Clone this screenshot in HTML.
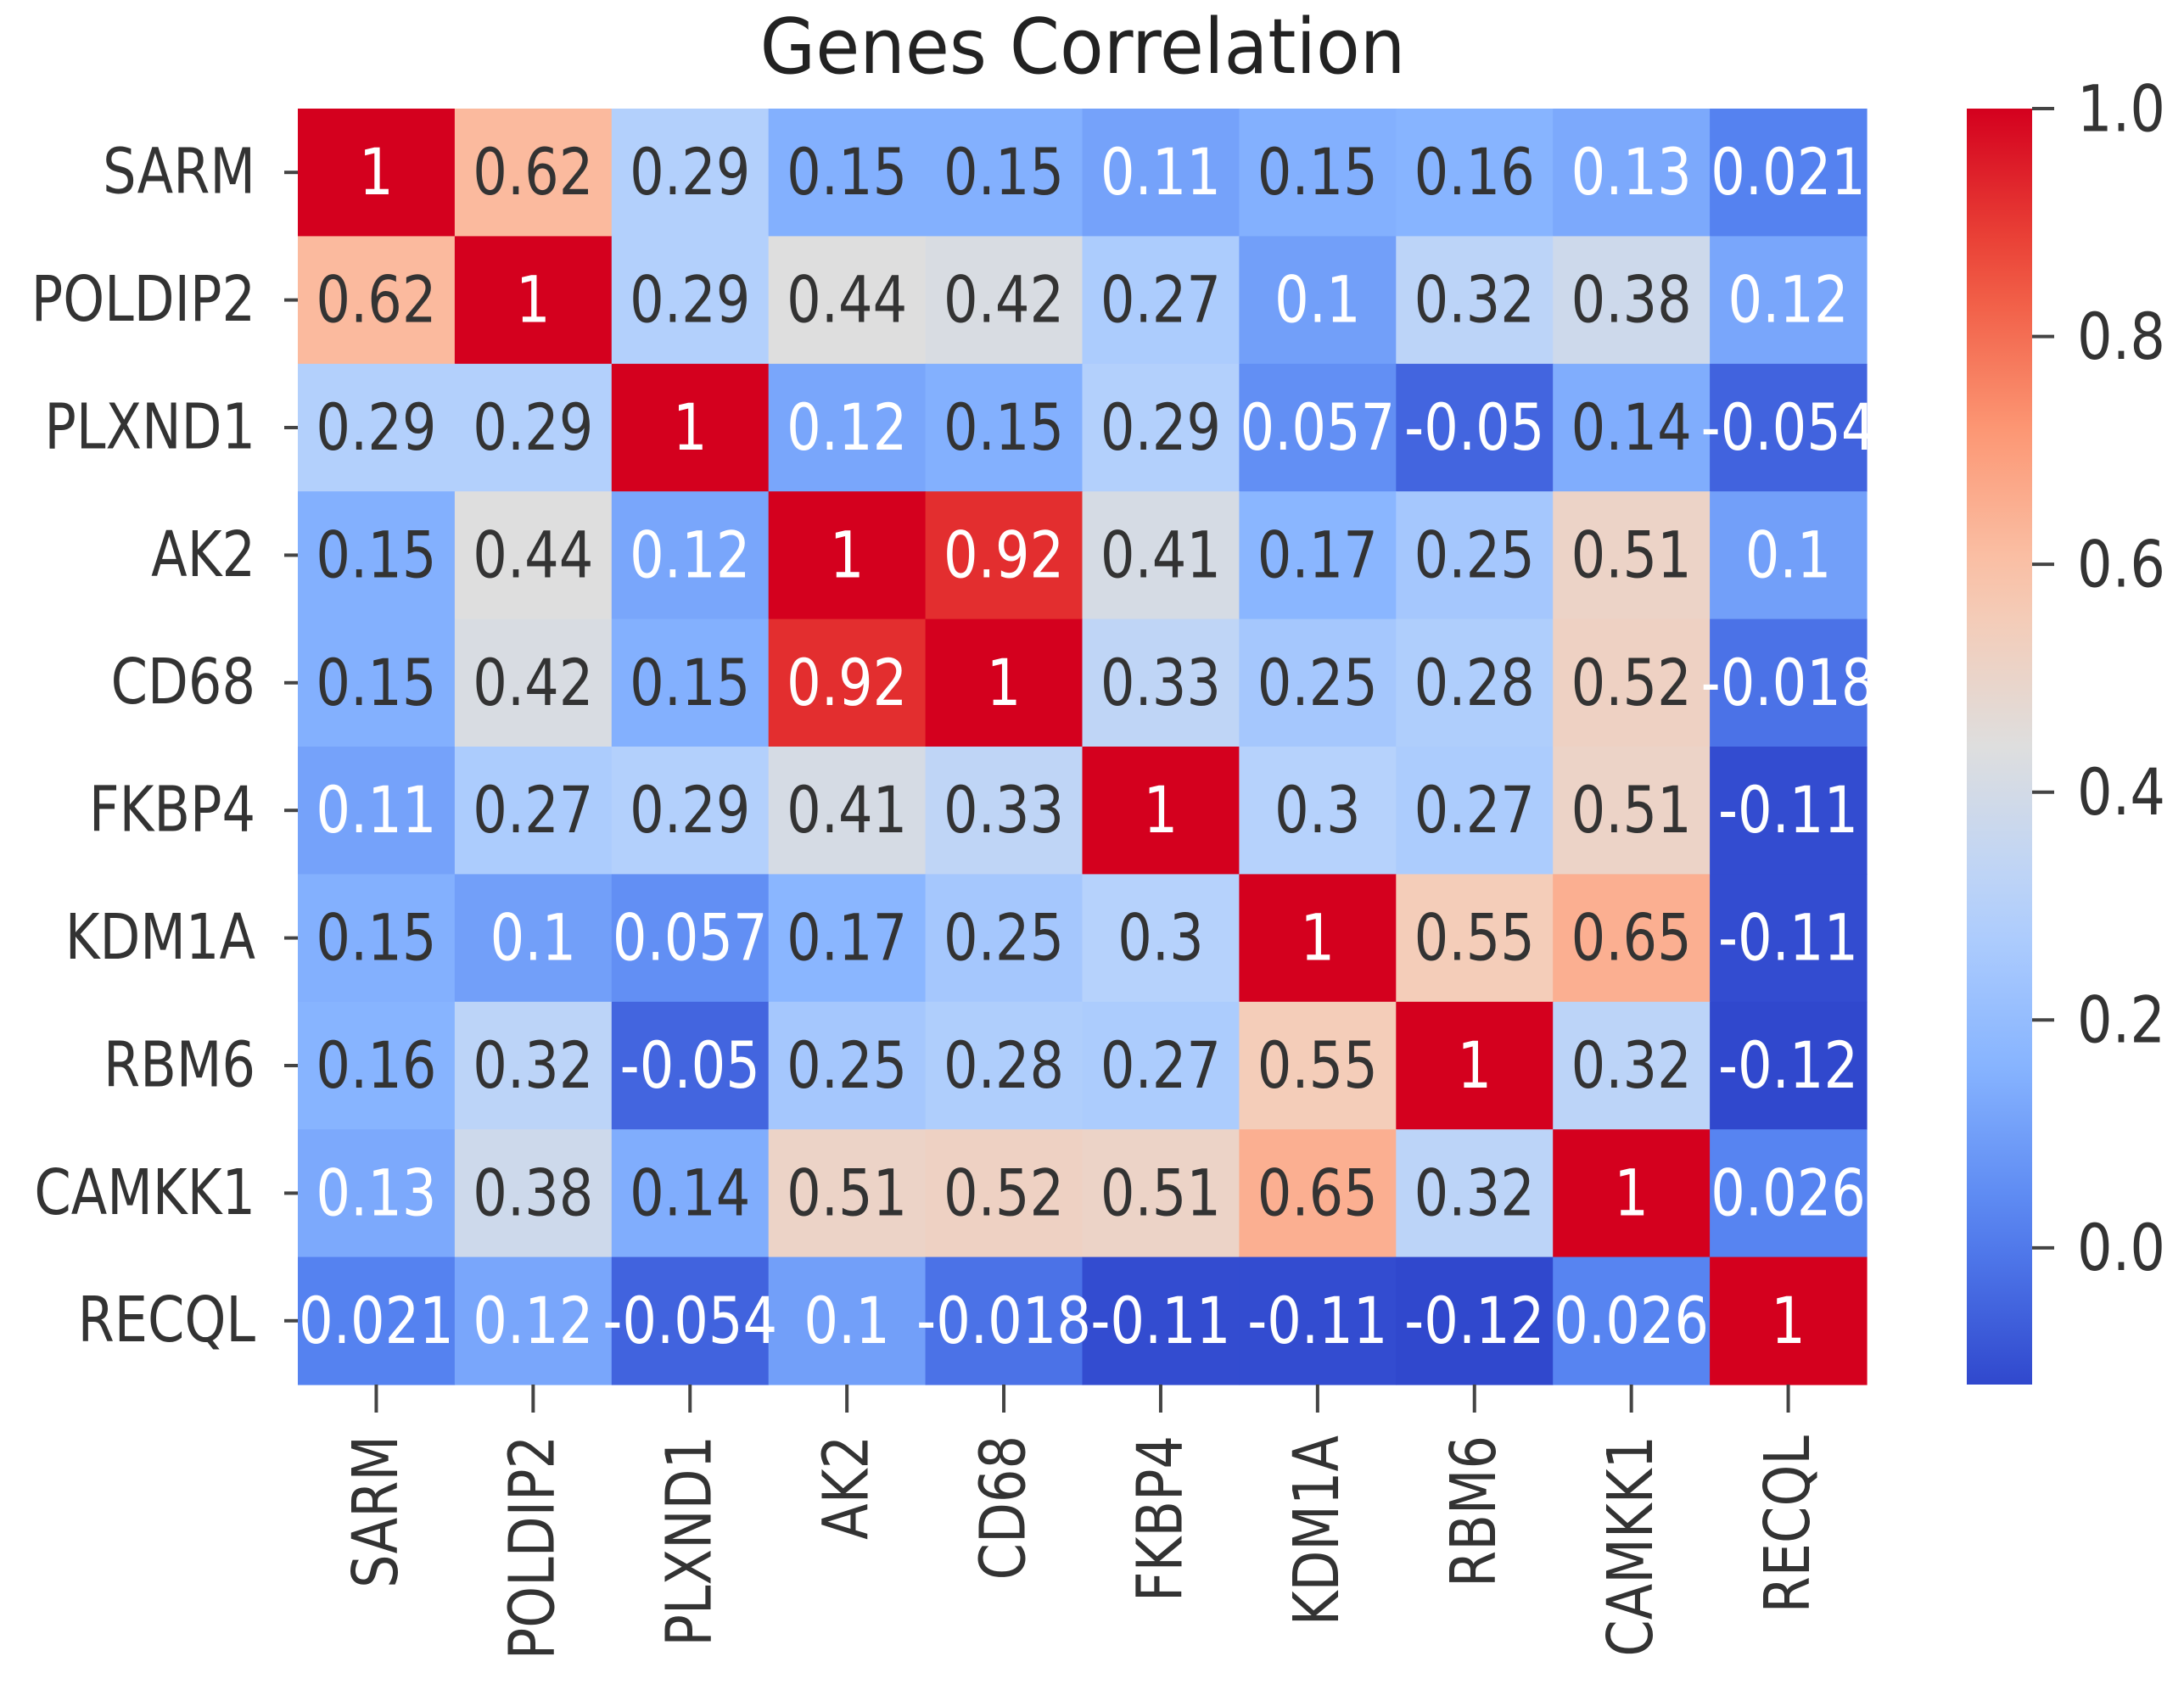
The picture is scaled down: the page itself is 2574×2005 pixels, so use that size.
<!DOCTYPE html>
<html><head><meta charset="utf-8"><style>
html,body{margin:0;padding:0;background:#fff;}
svg text{font-family:"DejaVu Sans","Liberation Sans",sans-serif;}
</style></head><body>
<svg id="chart" width="2574" height="2000" viewBox="0 0 2574 2000" xmlns="http://www.w3.org/2000/svg">
<defs>
<linearGradient id="cbgrad" x1="0" y1="1" x2="0" y2="0"></linearGradient>
</defs>
<g id="cells"></g><g id="annots"></g><g id="yaxis"></g><g id="xaxis"></g><g id="cbar"></g>
<g transform="translate(1276,86) scale(0.94,1)"><text x="0" y="0" text-anchor="middle" font-size="90" fill="#222">Genes Correlation</text></g>
</svg>
<script>
const genes = ["SARM","POLDIP2","PLXND1","AK2","CD68","FKBP4","KDM1A","RBM6","CAMKK1","RECQL"];
const row0 = [1,0.62,0.29,0.15,0.15,0.11,0.15,0.16,0.13,0.021];
const row1 = [0.62,1,0.29,0.44,0.42,0.27,0.1,0.32,0.38,0.12];
const row2 = [0.29,0.29,1,0.12,0.15,0.29,0.057,-0.05,0.14,-0.054];
const row3 = [0.15,0.44,0.12,1,0.92,0.41,0.17,0.25,0.51,0.1];
const row4 = [0.15,0.42,0.15,0.92,1,0.33,0.25,0.28,0.52,-0.018];
const row5 = [0.11,0.27,0.29,0.41,0.33,1,0.3,0.27,0.51,-0.11];
const row6 = [0.15,0.1,0.057,0.17,0.25,0.3,1,0.55,0.65,-0.11];
const row7 = [0.16,0.32,-0.05,0.25,0.28,0.27,0.55,1,0.32,-0.12];
const row8 = [0.13,0.38,0.14,0.51,0.52,0.51,0.65,0.32,1,0.026];
const row9 = [0.021,0.12,-0.054,0.1,-0.018,-0.11,-0.11,-0.12,0.026,1];
const matrix = [row0,row1,row2,row3,row4,row5,row6,row7,row8,row9];
const cbTicks = [0.0,0.2,0.4,0.6,0.8,1.0];
const vmin = -0.12, vmax = 1.0;

const NS="http://www.w3.org/2000/svg";
const L=351,R=2200,T=128,B=1632;
const cw=(R-L)/genes.length, ch=(B-T)/genes.length;
const xPos=i=>L+i*cw, yPos=i=>T+i*ch;
const stops=[[0,[48,72,205]],[0.125,[85,130,240]],[0.25,[135,180,255]],[0.375,[182,210,252]],[0.5,[222,222,222]],[0.625,[250,200,175]],[0.75,[252,150,115]],[0.875,[238,80,60]],[1,[212,0,30]]];
function cmap(t){t=Math.max(0,Math.min(1,t));for(let i=1;i<stops.length;i++){if(t<=stops[i][0]){const a=stops[i-1],b=stops[i];const f=(t-a[0])/(b[0]-a[0]);return a[1].map((v,k)=>Math.round(v+(b[1][k]-v)*f));}}return stops[stops.length-1][1];}
const norm=v=>(v-vmin)/(vmax-vmin);
function mk(tag,attrs,parent){const e=document.createElementNS(NS,tag);for(const k in attrs)e.setAttribute(k,attrs[k]);parent.appendChild(e);return e;}
const cells=document.getElementById('cells'),annots=document.getElementById('annots');
matrix.forEach((row,r)=>row.forEach((v,c)=>{
  const col=cmap(norm(v));
  const rect=mk('rect',{x:xPos(c),y:yPos(r),width:cw+0.6,height:ch+0.6,fill:`rgb(${col})`},cells);
  
  
  const lum=0.2126*Math.pow(col[0]/255,2.2)+0.7152*Math.pow(col[1]/255,2.2)+0.0722*Math.pow(col[2]/255,2.2);
  const g=mk('g',{transform:`translate(${xPos(c)+cw/2},${yPos(r)+ch/2}) scale(0.84,1)`},annots);
  const t=mk('text',{x:0,y:0,'text-anchor':'middle','dominant-baseline':'central','font-size':76,fill:lum<0.408?'#fff':'#333'},g);
  
  
  t.textContent=String(v);
}));
const ya=document.getElementById('yaxis'),xa=document.getElementById('xaxis');
genes.forEach((gname,i)=>{
  const y=yPos(i)+ch/2;
  mk('line',{x1:L-16,x2:L,y1:y,y2:y,stroke:'#444','stroke-width':4},ya);
  const g=mk('g',{transform:`translate(${L-50},${y}) scale(0.84,1)`},ya);
  const t=mk('text',{x:0,y:0,'text-anchor':'end','dominant-baseline':'central','font-size':74,fill:'#333'},g);
  
  
  t.textContent=gname;
  const x=xPos(i)+cw/2;
  mk('line',{x1:x,x2:x,y1:B,y2:B+33,stroke:'#444','stroke-width':4},xa);
  const g2=mk('g',{transform:`translate(${x},${B+60}) rotate(-90) scale(0.84,1)`},xa);
  const t2=mk('text',{x:0,y:0,'text-anchor':'end','dominant-baseline':'central','font-size':74,fill:'#333'},g2);
  
  
  t2.textContent=gname;
});
const CL=2318,CR=2395,CT=128,CB=1632;
const cbY=v=>CB-(v-vmin)/(vmax-vmin)*(CB-CT);
const grad=document.getElementById('cbgrad');
for(let i=0;i<=20;i++){const t=i/20;mk('stop',{offset:t,'stop-color':`rgb(${cmap(t)})`},grad);}
const cb=document.getElementById('cbar');
const bar=mk('rect',{x:CL,y:CT,width:CR-CL,height:CB-CT,fill:'url(#cbgrad)'},cb);


cbTicks.forEach(v=>{
  const y=cbY(v);
  mk('line',{x1:CR,x2:CR+26,y1:y,y2:y,stroke:'#444','stroke-width':4},cb);
  const g=mk('g',{transform:`translate(2448,${y}) scale(0.86,1)`},cb);
  const t=mk('text',{x:0,y:0,'dominant-baseline':'central','font-size':76,fill:'#333'},g);
  
  
  t.textContent=v.toFixed(1);
});
</script>
</body></html>
